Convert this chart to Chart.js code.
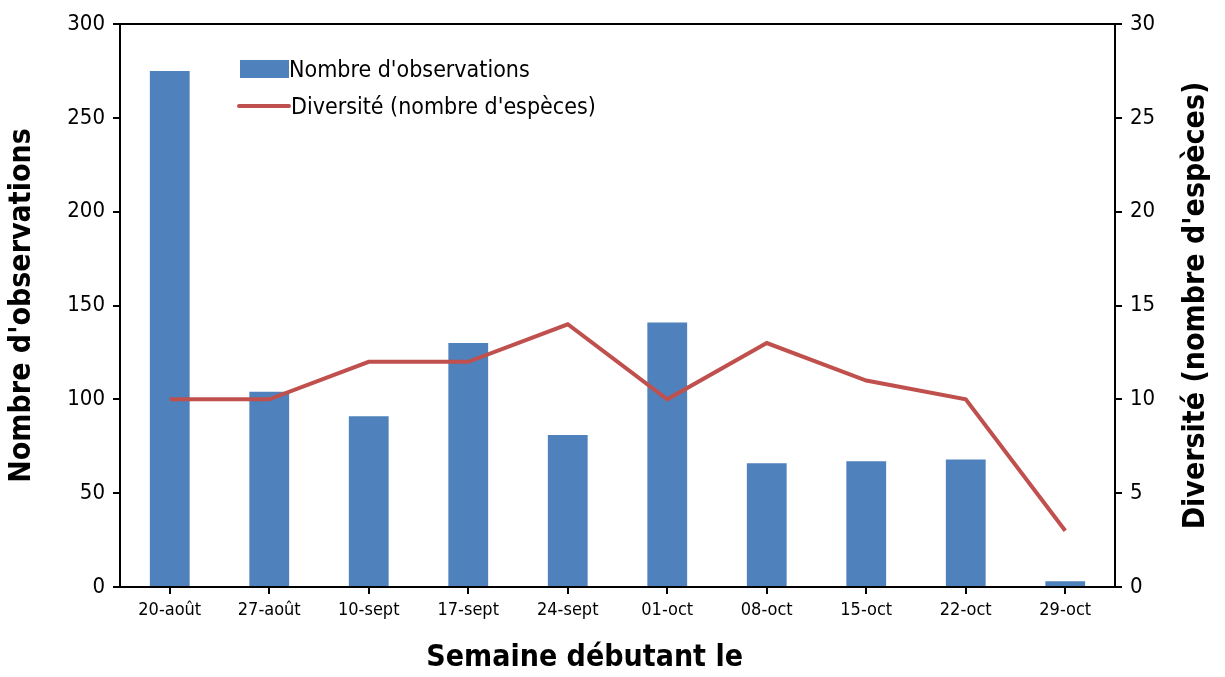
<!DOCTYPE html>
<html>
<head>
<meta charset="utf-8">
<script src="https://cdn.jsdelivr.net/npm/chart.js"></script>
<style>
  body { margin: 0; background: #fff; }
  #wrap { position: relative; width: 1225px; height: 677px; }
  .legend { position: absolute; left: 237px; top: 50px; font-family: "Liberation Sans Narrow", "DejaVu Sans Condensed", sans-serif; font-size: 23px; color: #000; }
  .legend div { display: flex; align-items: center; height: 37px; }
  .sw-bar { width: 49px; height: 18px; background: #4F81BD; margin-left: 3px; }
  .sw-line { width: 54px; height: 4px; background: #C0504D; border-radius: 2px; }
</style>
</head>
<body>
<div id="wrap">
  <canvas id="chart" width="1225" height="677"></canvas>
  <div class="legend">
    <div><span class="sw-bar"></span><span>Nombre d'observations</span></div>
    <div><span class="sw-line"></span><span>Diversité (nombre d'espèces)</span></div>
  </div>
</div>
<script>
// weeks and values
const weeks = ['20-août', '27-août', '10-sept', '17-sept', '24-sept', '01-oct', '08-oct', '15-oct', '22-oct', '29-oct'];
const observations = [275, 104, 91, 130, 81, 141, 66, 67, 68, 3];
const diversity = [10, 10, 12, 12, 14, 10, 13, 11, 10, 3];

const FONT = '"Liberation Sans Narrow", "DejaVu Sans Condensed", sans-serif';
const xTitle = 'Semaine débutant le';
const rightTitle = "Diversité (nombre d'espèces)";

// box round the plot area, plus the x title and the right title (read bottom to top)
const frame = {
  id: 'frame',
  afterDraw(chart) {
    const { ctx, chartArea: a } = chart;
    ctx.save();
    ctx.strokeStyle = '#000';
    ctx.lineWidth = 2;
    ctx.strokeRect(a.left, a.top, a.right - a.left, a.bottom - a.top);

    ctx.fillStyle = '#000';
    ctx.font = 'bold 30px ' + FONT;
    ctx.textAlign = 'center';
    ctx.textBaseline = 'middle';
    ctx.fillText(xTitle, a.left + (a.right - a.left) * 0.467, 658);

    ctx.translate(1196, (a.top + a.bottom) / 2);
    ctx.rotate(-Math.PI / 2);
    ctx.fillText(rightTitle, 0, 0);
    ctx.restore();
  }
};

new Chart(document.getElementById('chart'), {
  data: {
    labels: weeks,
    datasets: [
      {
        type: 'line',
        label: rightTitle,
        data: diversity,
        yAxisID: 'y1',
        borderColor: '#C0504D',
        borderWidth: 4,
        pointRadius: 0,
        tension: 0,
        order: 0
      },
      {
        type: 'bar',
        label: "Nombre d'observations",
        data: observations,
        yAxisID: 'y',
        backgroundColor: '#4F81BD',
        barPercentage: 0.4,
        categoryPercentage: 1,
        order: 1
      }
    ]
  },
  options: {
    responsive: false,
    animation: false,
    layout: { padding: { top: 24, right: 0, left: 0, bottom: 0 } },
    plugins: { legend: { display: false }, tooltip: { enabled: false } },
    scales: {
      x: {
        offset: true,
        grid: { display: true, drawOnChartArea: false, offset: false, color: '#000', tickLength: 7, lineWidth: 2 },
        border: { color: '#000', width: 2 },
        ticks: { color: '#000', font: { family: FONT, size: 18 }, padding: 6, maxRotation: 0 },
        afterFit(s) { s.height = 90; }
      },
      y: {
        position: 'left',
        min: 0, max: 300,
        ticks: { stepSize: 50, color: '#000', font: { family: FONT, size: 22 }, padding: 8 },
        grid: { drawOnChartArea: false, color: '#000', tickLength: 7, lineWidth: 2 },
        border: { color: '#000', width: 2 },
        title: { display: true, text: "Nombre d'observations", color: '#000', font: { family: FONT, size: 30, weight: 'bold' }, padding: { bottom: 6 } },
        afterFit(s) { s.width = 120; }
      },
      y1: {
        position: 'right',
        min: 0, max: 30,
        ticks: { stepSize: 5, color: '#000', font: { family: FONT, size: 22 }, padding: 8 },
        grid: { drawOnChartArea: false, color: '#000', tickLength: 7, lineWidth: 2 },
        border: { color: '#000', width: 2 },
        afterFit(s) { s.width = 110; }
      }
    }
  },
  plugins: [frame]
});
</script>
</body>
</html>
